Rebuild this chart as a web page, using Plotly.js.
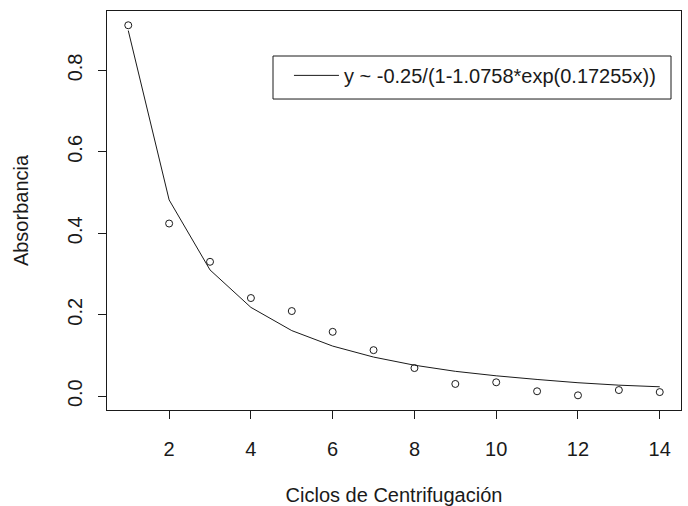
<!DOCTYPE html>
<html>
<head>
<meta charset="utf-8">
<script src="https://cdn.plot.ly/plotly-3.0.1.min.js"></script>
<style>html,body{margin:0;padding:0;background:#fff;}#chart{width:688px;height:506px;}</style>
</head>
<body>
<div id="chart"></div>
<script>
// Centrifugation cycles
const ciclos = [1, 2, 3, 4, 5, 6, 7, 8, 9, 10, 11, 12, 13, 14];
// Observed absorbance (points)
const absorbancia = [0.911, 0.424, 0.330, 0.241, 0.209, 0.158, 0.113, 0.069, 0.030, 0.034, 0.012, 0.002, 0.015, 0.010];
// Fitted curve values (line)
const ajuste = [0.898, 0.482, 0.310, 0.218, 0.161, 0.123, 0.096, 0.076, 0.061, 0.050, 0.041, 0.033, 0.027, 0.023];
const leyenda = "y ~ -0.25/(1-1.0758*exp(0.17255x))";
const xTicks = [2, 4, 6, 8, 10, 12, 14];
const yTicks = [0.0, 0.2, 0.4, 0.6, 0.8];
const yTickText = ["0.0", "0.2", "0.4", "0.6", "0.8"];

const font = "Liberation Sans, Arial, sans-serif";
const ink = "#1a1a1a";
const traces = [
  {
    x: ciclos, y: absorbancia, type: "scatter", mode: "markers",
    marker: {symbol: "circle-open", size: 7, color: ink, line: {width: 1, color: ink}},
    showlegend: false, hoverinfo: "x+y"
  },
  {
    x: ciclos, y: ajuste, type: "scatter", mode: "lines",
    line: {color: ink, width: 1},
    name: leyenda, showlegend: true
  }
];
const layout = {
  width: 688, height: 506,
  margin: {l: 107, r: 7, t: 11, b: 96},
  paper_bgcolor: "#fff", plot_bgcolor: "#fff",
  font: {family: font, size: 20, color: ink},
  showlegend: true,
  legend: {
    x: 0.317, y: 0.8875, xanchor: "left", yanchor: "top",
    borderwidth: 0, bgcolor: "rgba(0,0,0,0)",
    font: {family: font, size: 20, color: ink},
    itemwidth: 45
  },
  shapes: [
    {type: "rect", xref: "paper", yref: "paper",
     x0: 0.2892, x1: 0.9826, y0: 0.7794, y1: 0.8872,
     line: {color: ink, width: 1}, fillcolor: "rgba(0,0,0,0)", layer: "above"}
  ],
  xaxis: {
    range: [0.48, 14.52], tickvals: xTicks, ticktext: xTicks.map(String),
    showgrid: false, zeroline: false,
    showline: true, mirror: true, linecolor: ink, linewidth: 1,
    ticks: "outside", ticklen: 8, tickcolor: ink, tickwidth: 1,
    ticklabelstandoff: 13,
    tickfont: {family: font, size: 20, color: ink},
    title: {text: "Ciclos de Centrifugación", font: {family: font, size: 20, color: ink}, standoff: 32}
  },
  yaxis: {
    range: [-0.034, 0.946], tickvals: yTicks, ticktext: yTickText,
    showgrid: false, zeroline: false,
    showline: true, mirror: true, linecolor: ink, linewidth: 1,
    ticks: "outside", ticklen: 8, tickcolor: ink, tickwidth: 1,
    tickangle: -90, ticklabelstandoff: 8,
    tickfont: {family: font, size: 20, color: ink},
    title: {text: "Absorbancia", font: {family: font, size: 20, color: ink}, standoff: 30}
  }
};
Plotly.newPlot("chart", traces, layout, {displayModeBar: false, staticPlot: true});
</script>
</body>
</html>
